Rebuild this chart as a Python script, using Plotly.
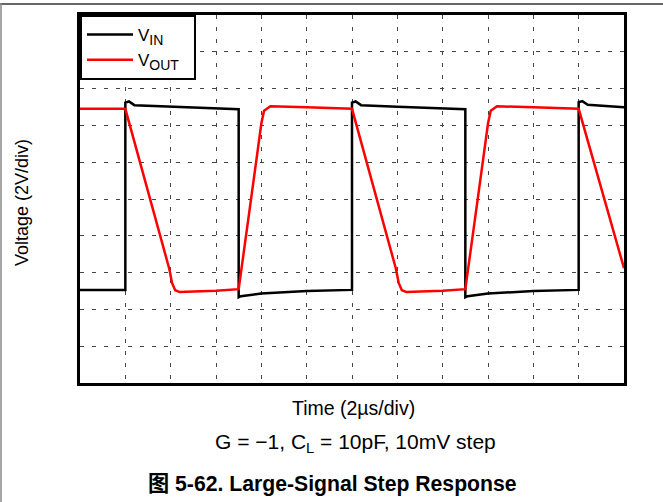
import plotly.graph_objects as go

# Time in divisions (2 µs/div), voltage in divisions (2 V/div)
vin_t = [0, 1.0, 1.0, 1.08, 1.2, 2.0, 3.0, 3.5, 3.5, 3.55, 4.0, 5.0, 6.0,
         6.0, 6.08, 6.2, 7.0, 8.0, 8.5, 8.5, 8.55, 9.0, 10.0, 11.0,
         11.0, 11.08, 11.2, 12.0]
vin_v = [2.53, 2.53, 7.62, 7.65, 7.55, 7.51, 7.47, 7.44, 2.33, 2.36, 2.43, 2.50, 2.53,
         7.62, 7.65, 7.55, 7.51, 7.47, 7.44, 2.33, 2.36, 2.43, 2.50, 2.53,
         7.63, 7.66, 7.56, 7.49]

vout_t = [0, 1.0, 1.97, 2.03, 2.1, 2.2, 3.0, 3.5, 3.77, 4.0, 4.06, 4.2, 5.0, 6.0,
          6.97, 7.03, 7.1, 7.2, 8.0, 8.5, 8.77, 9.0, 9.06, 9.2, 10.0, 11.0, 12.0]
vout_v = [7.45, 7.45, 3.1, 2.72, 2.52, 2.47, 2.51, 2.55, 4.97, 7.05, 7.4, 7.52, 7.49, 7.45,
          3.1, 2.72, 2.52, 2.47, 2.51, 2.55, 4.97, 7.05, 7.4, 7.52, 7.49, 7.45, 3.12]

x_divs = list(range(0, 13))
y_divs = list(range(0, 11))

FONT = "Liberation Sans, Arial, Noto Sans CJK SC, sans-serif"

fig = go.Figure()
fig.add_trace(go.Scatter(x=vin_t, y=vin_v, mode="lines",
                         name='V<sub><span style="font-size:14px">IN</span></sub>',
                         line=dict(color="black", width=2.5)))
fig.add_trace(go.Scatter(x=vout_t, y=vout_v, mode="lines",
                         name='V<sub><span style="font-size:14px">OUT</span></sub>\u00a0\u00a0',
                         line=dict(color="#ff0000", width=2.5)))

axis_common = dict(showticklabels=False, ticks="", showgrid=True,
                   gridcolor="#444444", gridwidth=1, griddash="4px,8px",
                   zeroline=False, showline=True, linecolor="black", linewidth=3,
                   mirror=True)
fig.update_xaxes(range=[0, 12], tickvals=x_divs, **axis_common)
fig.update_yaxes(range=[0, 10], tickvals=y_divs, **axis_common)

fig.update_layout(
    width=663, height=502,
    margin=dict(l=80, r=39, t=15, b=119),
    paper_bgcolor="white", plot_bgcolor="white",
    font=dict(family=FONT, color="black", size=15),
    showlegend=True,
    legend=dict(x=0, y=1, xanchor="left", yanchor="top",
                bgcolor="white", bordercolor="black", borderwidth=2,
                font=dict(size=17, family=FONT), itemwidth=46,
                tracegroupgap=0),
)

ph = 368.0
pw = 544.0
def py(p):
    return (383 - p) / ph
def px(p):
    return (p - 80) / pw

annotations = [
    dict(text="Voltage (2V/div)", x=px(22), y=py(203), textangle=-90,
         font=dict(size=18)),
    dict(text="Time (2µs/div)", x=px(353), y=py(408), font=dict(size=19.5)),
    dict(text="G = −1, C<sub>L</sub> = 10pF, 10mV step", x=px(355), y=py(443),
         font=dict(size=21)),
    dict(text="<b>图 5-62. Large-Signal Step Response</b>", x=px(332), y=py(484),
         font=dict(size=21.2)),
]
for a in annotations:
    fig.add_annotation(xref="paper", yref="paper", showarrow=False,
                       xanchor="center", yanchor="middle", **a)

# page frame (top and left edges of the document box)
fig.add_shape(type="line", xref="paper", yref="paper", x0=px(0), x1=px(663),
              y0=py(4), y1=py(4), line=dict(color="#666666", width=2),
              layer="above")
fig.add_shape(type="line", xref="paper", yref="paper", x0=px(1), x1=px(1),
              y0=py(3), y1=py(502), line=dict(color="#888888", width=1.5),
              layer="above")

fig.write_html("out.html", config={"displayModeBar": False},
               post_script="document.body.style.margin='0';")
